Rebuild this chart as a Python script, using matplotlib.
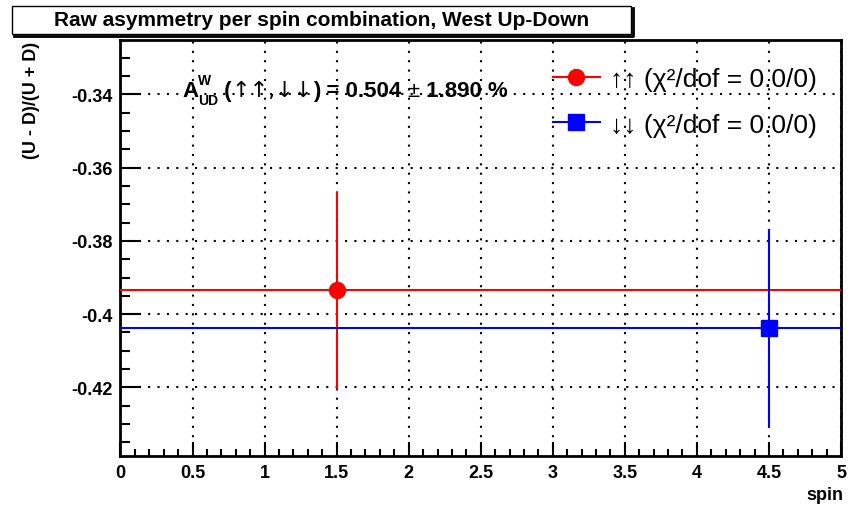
import matplotlib
matplotlib.use('Agg')
import matplotlib.pyplot as plt
from matplotlib.lines import Line2D
from matplotlib.patches import Rectangle
from matplotlib.ticker import MultipleLocator
from matplotlib.transforms import IdentityTransform

# dane
spin = [1.5, 4.5]
asymetria = [-0.3935, -0.4037]
blad_asym = [0.0268, 0.0270]
zakres_x = (0.0, 5.0)
kolory = ['#ff0000', '#0000ff']
znaczniki = ['o', 's']
etykiety = ['↑↑ (χ²/dof = 0.0/0)', '↓↓ (χ²/dof = 0.0/0)']
tytul = 'Raw asymmetry per spin combination, West Up-Down'
wynik = '0.504'
wynik_blad = '1.890'

RODZINA = ['Liberation Sans', 'DejaVu Sans']
W, H = 854, 506


def napis(fig, x, y, kawalki):
    # sklada tekst z kawalkow o roznych krojach (wspolrzedne w pikselach)
    r = fig.canvas.get_renderer()
    for tekst, waga, rozm, dy, rodz in kawalki:
        t = fig.text(x, y + dy, tekst, transform=IdentityTransform(),
                     fontsize=rozm, fontweight=waga, family=rodz,
                     ha='left', va='baseline')
        if dy == 0 or tekst == 'UD':
            x += t.get_window_extent(renderer=r).width
    return x


def main():
    plt.rcParams['font.family'] = RODZINA
    fig = plt.figure(figsize=(W / 100, H / 100), dpi=100)
    ax = fig.add_axes([120.5 / W, 1 - 457 / H, (841 - 120.5) / W, (457 - 41) / H])

    for xi, yi, ei, kol, zn in zip(spin, asymetria, blad_asym, kolory, znaczniki):
        ax.errorbar(xi, yi, yerr=ei,
                    xerr=[[xi - zakres_x[0]], [zakres_x[1] - xi]],
                    fmt=zn, color=kol, ms=11.5, elinewidth=1.5, capsize=0,
                    zorder=3)

    ax.set_xlim(*zakres_x)
    ax.set_ylim(-0.4387, -0.3252)
    ax.xaxis.set_major_locator(MultipleLocator(0.5))
    ax.xaxis.set_minor_locator(MultipleLocator(0.1))
    ax.yaxis.set_major_locator(MultipleLocator(0.02))
    ax.yaxis.set_minor_locator(MultipleLocator(0.005))
    ax.set_xticks([0, 0.5, 1, 1.5, 2, 2.5, 3, 3.5, 4, 4.5, 5])
    ax.set_xticklabels(['0', '0.5', '1', '1.5', '2', '2.5', '3', '3.5', '4', '4.5', '5'])
    ax.set_yticks([-0.42, -0.40, -0.38, -0.36, -0.34])
    ax.set_yticklabels(['-0.42', '-0.4', '-0.38', '-0.36', '-0.34'])
    ax.grid(True, which='major', color='black', linestyle=(0, (1, 3.5)), linewidth=1.5)
    ax.tick_params(axis='x', which='major', direction='in', length=10, width=1.5,
                   labelsize=13, pad=6, top=False)
    ax.tick_params(axis='x', which='minor', direction='in', length=5, width=1.5, top=False)
    ax.tick_params(axis='y', which='major', direction='in', length=15, width=1.5,
                   labelsize=13, pad=6, right=False)
    ax.tick_params(axis='y', which='minor', direction='in', length=7.5, width=1.5, right=False)
    for lab in ax.get_xticklabels() + ax.get_yticklabels():
        lab.set_fontweight('bold')
    for sp in ax.spines.values():
        sp.set_linewidth(2)

    # opisy osi
    fig.text(32 / W, 1 - 42 / H, '(U - D)/(U + D)', rotation=90, ha='center', va='top',
             fontsize=13, fontweight='bold')
    fig.text(843 / W, 1 - 496 / H, 'spin', ha='right', va='center',
             fontsize=13, fontweight='bold')

    # legenda
    uchwyty = [Line2D([], [], color=k, marker=z, ms=11.5, lw=1.5)
               for k, z in zip(kolory, znaczniki)]
    ax.legend(uchwyty, etykiety, loc='upper left', bbox_to_anchor=(553 / W, 1 - 68 / H),
              bbox_transform=fig.transFigure, frameon=False, fontsize=19,
              handlelength=1.78, handletextpad=0.38, labelspacing=0.82,
              borderpad=0, borderaxespad=0)

    # wynik asymetrii
    napis(fig, 182, H - 97, [
        ('A', 'bold', 16, 0, RODZINA),
        ('W', 'bold', 10, 12, RODZINA),
        ('UD', 'bold', 10, -8, RODZINA),
        (' (', 'bold', 16, 0, RODZINA),
        ('↑↑,↓↓', 'normal', 16, 0, ['DejaVu Sans']),
        (') = ' + wynik + ' ', 'bold', 16, 0, RODZINA),
        ('±', 'normal', 16, 0, RODZINA),
        (' ' + wynik_blad + ' %', 'bold', 16, 0, RODZINA),
    ])

    # ramka tytulu z cieniem
    x0, x1, y0, y1 = 12, 631, H - 35, H - 7
    fig.patches.append(Rectangle((x0, y0), x1 - x0, y1 - y0, transform=IdentityTransform(),
                                 facecolor='white', edgecolor='black', lw=1, zorder=5))
    fig.lines.append(Line2D([x0 + 2, x1 + 1.5, x1 + 1.5], [y0 - 1.5, y0 - 1.5, y1 - 2],
                            transform=IdentityTransform(), color='black', lw=2, zorder=5))
    fig.text((x0 + x1) / 2 / W, 1 - 21 / H, tytul, ha='center', va='center',
             fontsize=15, fontweight='bold', zorder=6)

    fig.savefig('out.png', dpi=100)


if __name__ == "__main__":
    main()
